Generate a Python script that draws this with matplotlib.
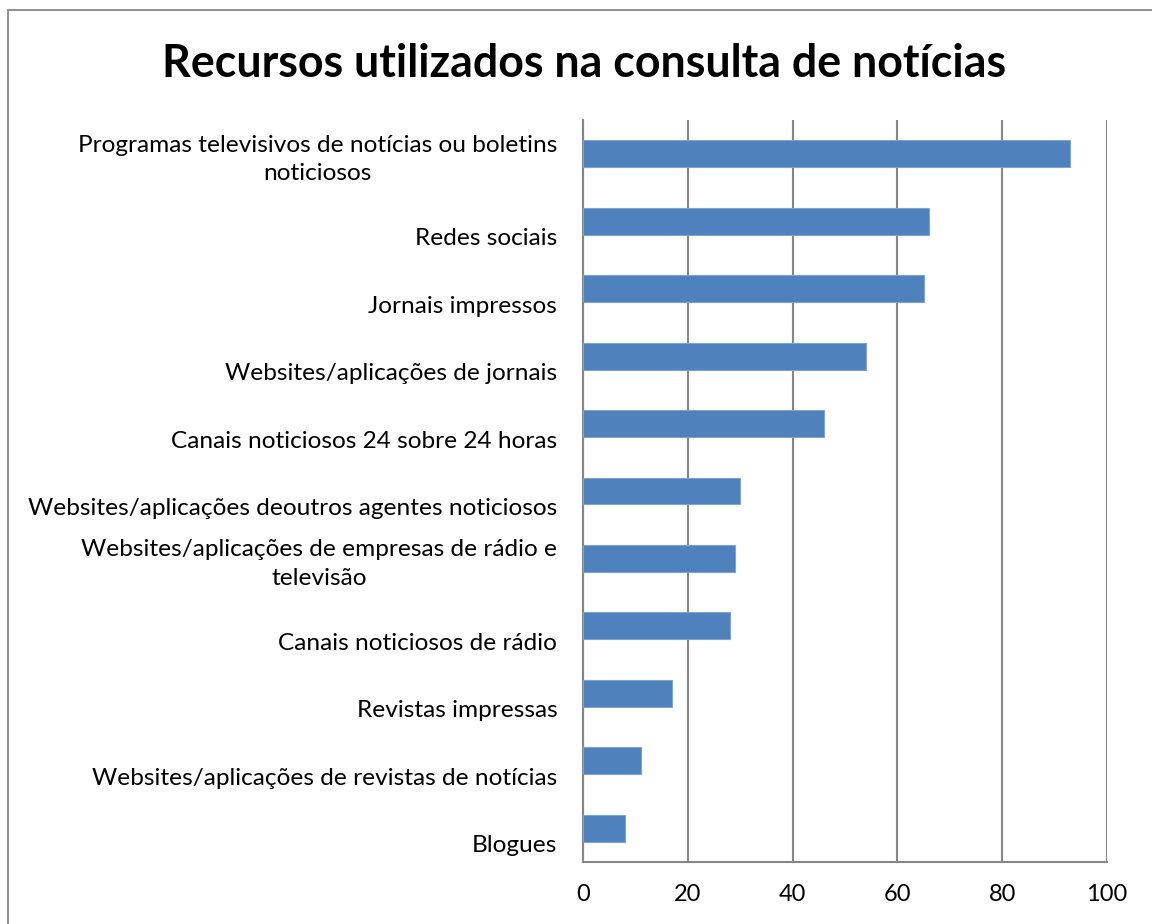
import matplotlib
matplotlib.use("Agg")
import matplotlib.pyplot as plt
import matplotlib.transforms as mtransforms
from matplotlib.patches import Rectangle

categories = [
    "Programas televisivos de notícias ou boletins\nnoticiosos",
    "Redes sociais",
    "Jornais impressos",
    "Websites/aplicações de jornais",
    "Canais noticiosos 24 sobre 24 horas",
    "Websites/aplicações deoutros agentes noticiosos",
    "Websites/aplicações de empresas de rádio e\ntelevisão",
    "Canais noticiosos de rádio",
    "Revistas impressas",
    "Websites/aplicações de revistas de notícias",
    "Blogues",
]
values = [93, 66, 65, 54, 46, 30, 29, 28, 17, 11, 8]
xticks = [0, 20, 40, 60, 80, 100]
title = "Recursos utilizados na consulta de notícias"

W, H = 1152, 924
fig = plt.figure(figsize=(W / 100, H / 100), dpi=100)
plt.rcParams['font.family'] = ['Lato', 'DejaVu Sans']

# outer chart border
fig.patches.append(Rectangle((8 / W, -0.1), 1.2, 1 - 10 / H + 0.1, transform=fig.transFigure,
                             fill=False, edgecolor='#878787', linewidth=1.3))

left, right, top, bottom = 583, 1107, 120, 862
ax = fig.add_axes([left / W, 1 - bottom / H, (right - left) / W, (bottom - top) / H])

y = list(range(len(categories)))
ax.barh(y, values, height=0.4, color='#4F81BD', edgecolor='#7FA3CF', linewidth=0.8, zorder=3)
ax.set_ylim(len(categories) - 0.5, -0.5)
ax.set_xlim(0, 100)
ax.set_xticks(xticks)
ax.set_xticklabels([str(t) for t in xticks], fontsize=17)
ax.set_yticks(y)
ax.set_yticklabels(categories, fontsize=17.6, multialignment='center', linespacing=1.45)
ax.tick_params(axis='both', length=0)
ax.tick_params(axis='x', pad=16)
ax.tick_params(axis='y', pad=18.5)
ax.xaxis.grid(True, color='#868686', linewidth=1.5, zorder=0)
for s in ['top', 'right']:
    ax.spines[s].set_visible(False)
for s in ['left', 'bottom']:
    ax.spines[s].set_color('#868686')
    ax.spines[s].set_linewidth(1.5)

# single-line category labels sit lower than the bar centre (as in the original)
offset = mtransforms.ScaledTranslation(0, -0.155, fig.dpi_scale_trans)
for lab in ax.get_yticklabels():
    if "\n" not in lab.get_text():
        lab.set_transform(lab.get_transform() + offset)

fig.text(584 / W, 1 - 64 / H, title, ha='center', va='center', fontsize=32.2, fontweight='bold')

fig.savefig("out.png", dpi=100)
